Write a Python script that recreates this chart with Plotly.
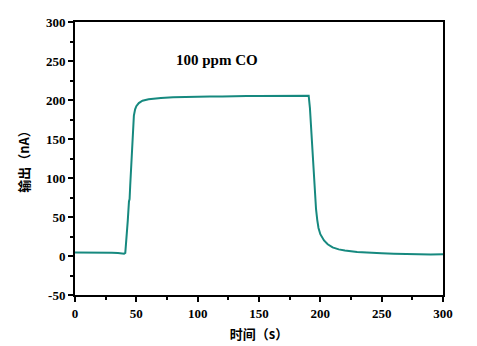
import plotly.graph_objects as go

time_s = [0, 5, 10, 15, 20, 25, 30, 35, 38, 40, 41, 42, 43, 44, 44.5, 45, 46, 47, 48, 49,
          50, 52, 55, 60, 65, 70, 80, 90, 100, 110, 120, 130, 140, 150, 160, 170, 180, 189, 190.5,
          191.5, 192.5, 193.5, 194.5, 195.5, 196.5, 197.5, 198.5, 200, 203, 206, 210, 215,
          220, 230, 240, 250, 260, 270, 280, 290, 300]
current_nA = [4.5, 4.6, 4.3, 4.4, 4.0, 4.2, 4.2, 3.8, 3.5, 3.0, 4.0, 20, 45, 70, 73, 90, 123, 160, 180, 188,
              192, 196, 199, 201, 202, 202.5, 203.5, 204, 204, 204.5, 204.5, 205, 205, 205, 205, 205.5, 205.5, 205.5, 205.5,
              190, 165, 135, 105, 76, 60, 46, 36, 28, 20, 15, 11, 8.5,
              7, 5.0, 4.0, 3.5, 3.0, 2.5, 2.2, 2.0, 2.2]

x_ticks = [0, 50, 100, 150, 200, 250, 300]
y_ticks = [-50, 0, 50, 100, 150, 200, 250, 300]

serif = "Liberation Serif"
cjk = "Noto Sans CJK SC"

fig = go.Figure()
fig.add_trace(go.Scatter(x=time_s, y=current_nA, mode="lines",
                         line=dict(color="#16897f", width=2), showlegend=False))

fig.add_annotation(x=116, y=251, text="<b>100 ppm CO</b>", showarrow=False,
                   font=dict(family=serif, size=15, color="black"))

axis_common = dict(showline=True, linecolor="black", linewidth=2, mirror=True,
                   ticks="outside", ticklen=5, tickwidth=2, tickcolor="black",
                   showgrid=False, zeroline=False, automargin=False,
                   tickfont=dict(family=serif, size=13, color="black"))

fig.update_xaxes(range=[0, 300], tickvals=x_ticks, ticktext=[f"<b>{v}</b>" for v in x_ticks],
                 minor=dict(dtick=25, tick0=0, ticks="outside", ticklen=3, tickwidth=2, tickcolor="black"),
                 title=dict(text="<b>时间（s）</b>", font=dict(family=cjk, size=13, color="black"), standoff=10),
                 **axis_common)
fig.update_yaxes(range=[-50, 300], tickvals=y_ticks, ticktext=[f"<b>{v}</b>" for v in y_ticks],
                 minor=dict(dtick=25, tick0=0, ticks="outside", ticklen=3, tickwidth=2, tickcolor="black"),
                 title=dict(text="<b>输出（nA）</b>", font=dict(family=cjk, size=13, color="black"), standoff=13),
                 **axis_common)

fig.update_layout(width=477, height=346, margin=dict(l=75, r=34, t=22, b=51),
                  plot_bgcolor="white", paper_bgcolor="white")

fig.write_html("out.html")
